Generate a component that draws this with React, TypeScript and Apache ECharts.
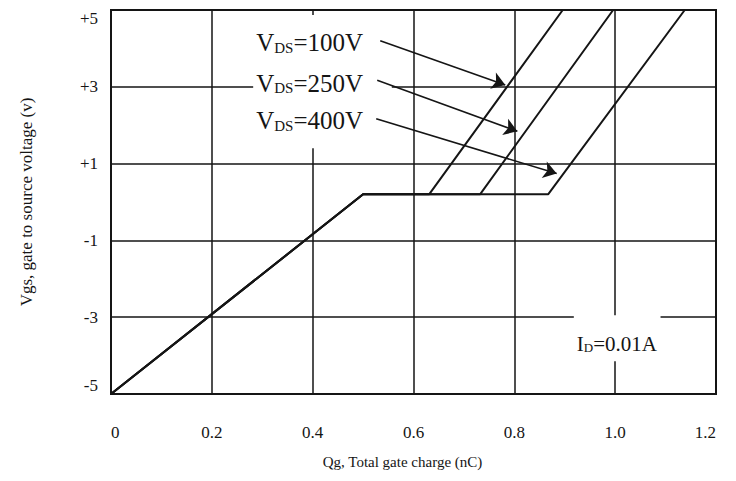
import React, { useEffect, useRef } from "react";
import * as echarts from "echarts";

// Axis ticks
const xTicks = [0, 0.2, 0.4, 0.6, 0.8, 1.0, 1.2];
const yTicks = [-5, -3, -1, 1, 3, 5];

// Gate charge curves (Qg in nC, Vgs in V)
const qg100 = [0, 0.5, 0.631, 0.896];
const vgs100 = [-5, 0.2, 0.2, 5];
const qg250 = [0, 0.5, 0.732, 0.996];
const vgs250 = [-5, 0.2, 0.2, 5];
const qg400 = [0, 0.5, 0.867, 1.138];
const vgs400 = [-5, 0.2, 0.2, 5];

// Annotations (data space)
const vdsNames = ["100V", "250V", "400V"];
const vdsLabelQg = [0.288, 0.288, 0.288];
const vdsLabelVgs = [4.17, 3.12, 2.14];
const arrowFromQg = [0.534, 0.528, 0.526];
const arrowFromVgs = [4.2, 3.17, 2.17];
const arrowToQg = [0.782, 0.806, 0.884];
const arrowToVgs = [3.05, 1.84, 0.74];
const vdsBoxQg = [0.282, 0.557];
const vdsBoxVgs = [4.87, 1.4];
const idLabel = "=0.01A";
const idLabelQg = 0.924;
const idLabelVgs = -3.67;
const idBoxQg = [0.918, 1.09];
const idBoxVgs = [-2.95, -4.15];

const FONT = "'Liberation Serif', 'Times New Roman', serif";
const INK = "#151515";

export default function App() {
  const ref = useRef<HTMLDivElement>(null);

  useEffect(() => {
    if (!ref.current) return;
    const chart = echarts.init(ref.current, null, { renderer: "svg" });

    const toPairs = (xs: number[], ys: number[]) => xs.map((x, i) => [x, ys[i]]);
    const curveStyle = { color: INK, width: 2 };

    const option: any = {
      animation: false,
      backgroundColor: "#fff",
      grid: {
        left: 111,
        right: 20,
        top: 10,
        bottom: 87,
        show: true,
        borderColor: INK,
        borderWidth: 2,
        backgroundColor: "transparent",
      },
      xAxis: {
        type: "value",
        min: xTicks[0],
        max: xTicks[xTicks.length - 1],
        interval: 0.2,
        name: "Qg, Total gate charge (nC)",
        nameLocation: "middle",
        nameGap: 60,
        nameTextStyle: { fontFamily: FONT, fontSize: 15, color: INK, padding: [0, 22, 0, 0] },
        axisLine: { show: true, onZero: false, lineStyle: { color: INK, width: 2 } },
        axisTick: { show: false },
        axisLabel: {
          fontFamily: FONT,
          fontSize: 17,
          color: INK,
          margin: 30,
          alignMinLabel: "left",
          alignMaxLabel: "right",
          formatter: (v: number) => (v === 0 ? "0" : v.toFixed(1)),
        },
        splitLine: { show: true, lineStyle: { color: INK, width: 1.5 } },
      },
      yAxis: {
        type: "value",
        min: yTicks[0],
        max: yTicks[yTicks.length - 1],
        name: "Vgs, gate to source voltage (v)",
        nameLocation: "middle",
        nameGap: 76,
        nameTextStyle: { fontFamily: FONT, fontSize: 17, color: INK },
        axisLine: { show: true, onZero: false, lineStyle: { color: INK, width: 2 } },
        axisTick: { show: false, customValues: yTicks },
        axisLabel: {
          customValues: yTicks,
          fontFamily: FONT,
          fontSize: 17,
          color: INK,
          margin: 13,
          verticalAlignMaxLabel: "top",
          verticalAlignMinLabel: "bottom",
          formatter: (v: number) => (v > 0 ? "+" + v : String(v)),
        },
        splitLine: { show: true, lineStyle: { color: INK, width: 1.5 } },
      },
      series: [
        {
          name: "VDS=100V",
          type: "line",
          data: toPairs(qg100, vgs100),
          symbol: "none",
          silent: true,
          lineStyle: curveStyle,
        },
        {
          name: "VDS=250V",
          type: "line",
          data: toPairs(qg250, vgs250),
          symbol: "none",
          silent: true,
          lineStyle: curveStyle,
        },
        {
          name: "VDS=400V",
          type: "line",
          data: toPairs(qg400, vgs400),
          symbol: "none",
          silent: true,
          lineStyle: curveStyle,
          z: 3,
          markLine: {
            silent: true,
            symbol: ["none", "arrow"],
            symbolSize: 13,
            label: { show: false },
            itemStyle: { color: INK },
            lineStyle: { color: INK, width: 1.6, type: "solid" },
            emphasis: { disabled: true },
            data: arrowFromQg.map((x, i) => [
              { coord: [x, arrowFromVgs[i]] },
              { coord: [arrowToQg[i], arrowToVgs[i]] },
            ]),
          },
        },
      ],
    };

    chart.setOption(option);

    const px = (x: number, y: number) =>
      chart.convertToPixel({ gridIndex: 0 }, [x, y]) as number[];

    const rectFrom = (qs: number[], vs: number[]) => {
      const [x1, y1] = px(qs[0], vs[0]);
      const [x2, y2] = px(qs[1], vs[1]);
      return {
        type: "rect",
        silent: true,
        z: 1,
        shape: { x: x1, y: y1, width: x2 - x1, height: y2 - y1 },
        style: { fill: "#fff" },
      };
    };

    const graphics: any[] = [rectFrom(vdsBoxQg, vdsBoxVgs), rectFrom(idBoxQg, idBoxVgs)];

    vdsNames.forEach((n, i) => {
      const [x, y] = px(vdsLabelQg[i], vdsLabelVgs[i]);
      graphics.push({
        type: "text",
        silent: true,
        z: 10,
        x,
        y,
        style: {
          text: `{a|V}{b|DS}{a|=${n}}`,
          fontFamily: FONT,
          align: "left",
          verticalAlign: "middle",
          rich: {
            a: { fontFamily: FONT, fontSize: 25, fill: INK, color: INK, verticalAlign: "bottom", lineHeight: 27 },
            b: { fontFamily: FONT, fontSize: 15, fill: INK, color: INK, verticalAlign: "bottom", lineHeight: 22 },
          },
        },
      });
    });

    {
      const [x, y] = px(idLabelQg, idLabelVgs);
      graphics.push({
        type: "text",
        silent: true,
        z: 10,
        x,
        y,
        style: {
          text: `{a|I}{b|D}{a|${idLabel}}`,
          fontFamily: FONT,
          align: "left",
          verticalAlign: "middle",
          rich: {
            a: { fontFamily: FONT, fontSize: 21, fill: INK, color: INK, verticalAlign: "bottom", lineHeight: 23 },
            b: { fontFamily: FONT, fontSize: 13, fill: INK, color: INK, verticalAlign: "bottom", lineHeight: 19 },
          },
        },
      });
    }

    chart.setOption({ graphic: graphics });

    return () => chart.dispose();
  }, []);

  return (
    <div
      ref={ref}
      style={{ position: "fixed", left: 0, top: 0, width: 736, height: 481, background: "#fff" }}
    />
  );
}
